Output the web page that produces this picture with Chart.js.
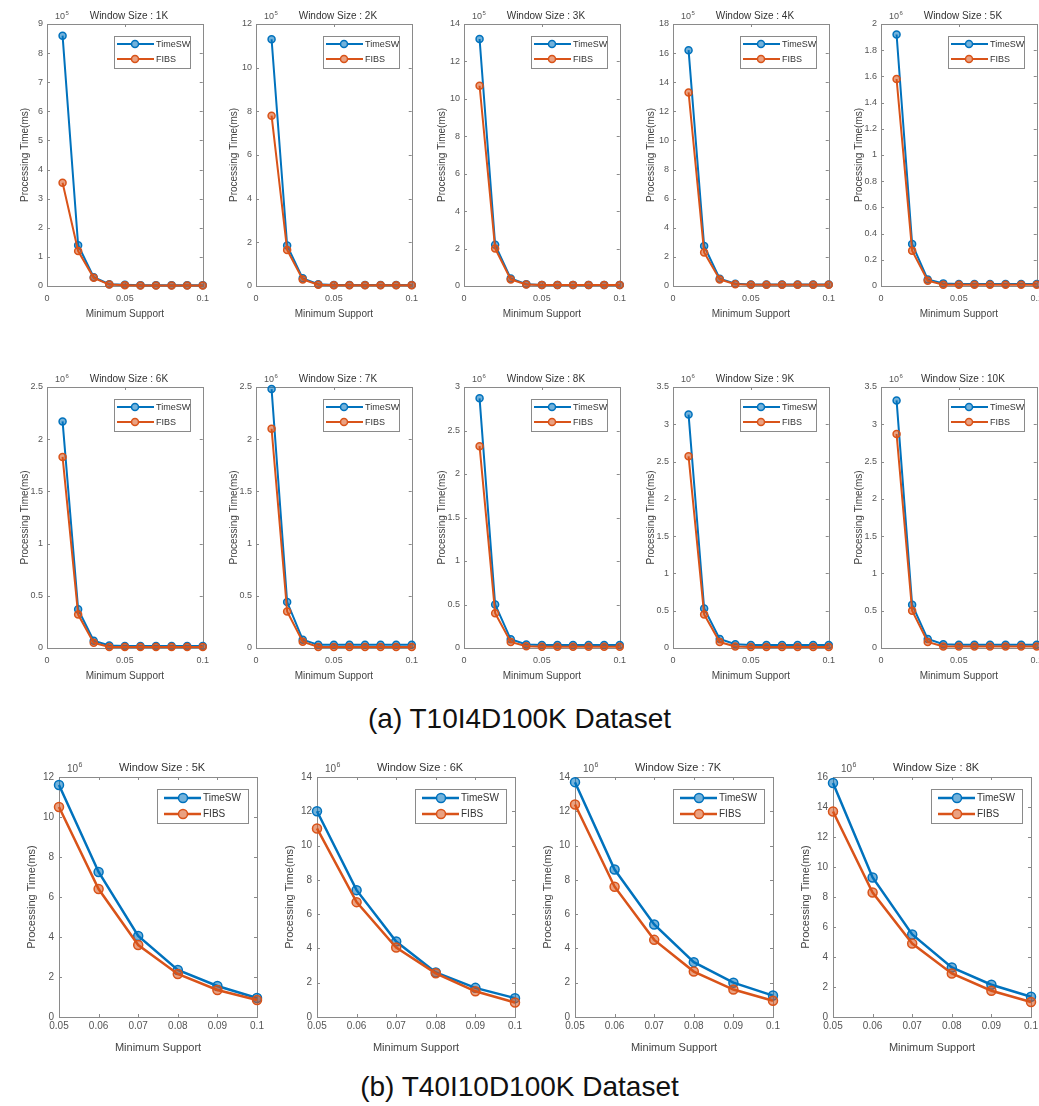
<!DOCTYPE html>
<html><head><meta charset="utf-8">
<script src="https://cdn.jsdelivr.net/npm/chart.js@4.4.1/dist/chart.umd.min.js"></script>
<style>
html,body{margin:0;padding:0;background:#fff;}
body{width:1039px;height:1106px;overflow:hidden;position:relative;font-family:"Liberation Sans",Arial,sans-serif;}
.cap{position:absolute;left:0;width:1039px;text-align:center;font-size:28px;color:#111;line-height:32px;}
</style></head><body>
<div class="cap" style="top:703px;">(a) T10I4D100K Dataset</div>
<div class="cap" style="top:1071px;">(b) T40I10D100K Dataset</div>
<script>
// ---------- data ----------
const supportA = [0.01, 0.02, 0.03, 0.04, 0.05, 0.06, 0.07, 0.08, 0.09, 0.1];
const supportB = [0.05, 0.06, 0.07, 0.08, 0.09, 0.1];
const windowA = ['1K', '2K', '3K', '4K', '5K', '6K', '7K', '8K', '9K', '10K'];
const windowB = ['5K', '6K', '7K', '8K'];
const seriesNames = ['TimeSW', 'FIBS'];

// (a) T10I4D100K
const timeSW_A1K  = [8.6, 1.4, 0.3, 0.06, 0.04, 0.03, 0.03, 0.03, 0.03, 0.03];
const fibs_A1K    = [3.55, 1.2, 0.28, 0.05, 0.03, 0.02, 0.02, 0.02, 0.02, 0.02];
const timeSW_A2K  = [11.3, 1.85, 0.35, 0.08, 0.05, 0.05, 0.05, 0.05, 0.05, 0.05];
const fibs_A2K    = [7.8, 1.65, 0.3, 0.06, 0.04, 0.04, 0.04, 0.04, 0.04, 0.04];
const timeSW_A3K  = [13.2, 2.2, 0.4, 0.1, 0.06, 0.06, 0.06, 0.06, 0.06, 0.06];
const fibs_A3K    = [10.7, 2.0, 0.35, 0.08, 0.05, 0.05, 0.05, 0.05, 0.05, 0.05];
const timeSW_A4K  = [16.2, 2.75, 0.5, 0.15, 0.1, 0.1, 0.1, 0.1, 0.1, 0.1];
const fibs_A4K    = [13.3, 2.3, 0.45, 0.12, 0.08, 0.08, 0.08, 0.08, 0.08, 0.08];
const timeSW_A5K  = [1.92, 0.32, 0.05, 0.02, 0.015, 0.015, 0.015, 0.015, 0.015, 0.015];
const fibs_A5K    = [1.58, 0.27, 0.04, 0.01, 0.01, 0.01, 0.01, 0.01, 0.01, 0.01];
const timeSW_A6K  = [2.17, 0.37, 0.07, 0.025, 0.02, 0.02, 0.02, 0.02, 0.02, 0.02];
const fibs_A6K    = [1.83, 0.32, 0.05, 0.01, 0.01, 0.01, 0.01, 0.01, 0.01, 0.01];
const timeSW_A7K  = [2.48, 0.44, 0.08, 0.03, 0.03, 0.03, 0.03, 0.03, 0.03, 0.03];
const fibs_A7K    = [2.1, 0.35, 0.06, 0.01, 0.01, 0.01, 0.01, 0.01, 0.01, 0.01];
const timeSW_A8K  = [2.87, 0.5, 0.1, 0.04, 0.035, 0.035, 0.035, 0.035, 0.035, 0.035];
const fibs_A8K    = [2.32, 0.4, 0.07, 0.02, 0.015, 0.015, 0.015, 0.015, 0.015, 0.015];
const timeSW_A9K  = [3.13, 0.53, 0.12, 0.05, 0.04, 0.04, 0.04, 0.04, 0.04, 0.04];
const fibs_A9K    = [2.57, 0.45, 0.08, 0.02, 0.015, 0.015, 0.015, 0.015, 0.015, 0.015];
const timeSW_A10K = [3.32, 0.58, 0.12, 0.05, 0.045, 0.045, 0.045, 0.045, 0.045, 0.045];
const fibs_A10K   = [2.87, 0.5, 0.08, 0.02, 0.02, 0.02, 0.02, 0.02, 0.02, 0.02];

// (b) T40I10D100K
const timeSW_B5K = [11.6, 7.25, 4.05, 2.35, 1.55, 0.95];
const fibs_B5K   = [10.5, 6.4, 3.6, 2.15, 1.35, 0.85];
const timeSW_B6K = [12.0, 7.4, 4.4, 2.6, 1.7, 1.1];
const fibs_B6K   = [11.0, 6.7, 4.05, 2.55, 1.5, 0.85];
const timeSW_B7K = [13.7, 8.6, 5.4, 3.2, 2.0, 1.25];
const fibs_B7K   = [12.4, 7.6, 4.5, 2.65, 1.6, 0.95];
const timeSW_B8K = [15.6, 9.3, 5.5, 3.3, 2.15, 1.35];
const fibs_B8K   = [13.7, 8.3, 4.9, 2.9, 1.75, 1.0];

// axis ticks
const xTicksA = [0, 0.05, 0.1];
const xTicksB = [0.05, 0.06, 0.07, 0.08, 0.09, 0.1];
const yMaxA  = [9, 12, 14, 18, 2, 2.5, 2.5, 3, 3.5, 3.5];
const yStepA = [1, 2, 2, 2, 0.2, 0.5, 0.5, 0.5, 0.5, 0.5];
const yExpA  = ['5', '5', '5', '5', '6', '6', '6', '6', '6', '6'];
const yMaxB  = [12, 14, 14, 16];
const yStepB = [2, 2, 2, 2];
const yExpB  = ['6', '6', '6', '6'];

const tswA = [timeSW_A1K, timeSW_A2K, timeSW_A3K, timeSW_A4K, timeSW_A5K, timeSW_A6K, timeSW_A7K, timeSW_A8K, timeSW_A9K, timeSW_A10K];
const fibsA = [fibs_A1K, fibs_A2K, fibs_A3K, fibs_A4K, fibs_A5K, fibs_A6K, fibs_A7K, fibs_A8K, fibs_A9K, fibs_A10K];
const tswB = [timeSW_B5K, timeSW_B6K, timeSW_B7K, timeSW_B8K];
const fibsB = [fibs_B5K, fibs_B6K, fibs_B7K, fibs_B8K];

// ---------- drawing ----------
const TSW = '#0072BD', FIB = '#D95319';
const TSW_FILL = 'rgba(0,114,189,0.55)', FIB_FILL = 'rgba(217,83,25,0.55)';
const FAM = '"Liberation Sans", Arial, sans-serif';
const FRAME = '#8a8a8a';
const fmt = v => String(parseFloat(Number(v).toFixed(3)));

function makeChart(p) {
  const cv = document.createElement('canvas');
  const W = p.ML + p.w + p.MR, H = p.MT + p.h + p.MB;
  cv.width = W; cv.height = H;
  cv.style.cssText = `position:absolute;left:${p.x - p.ML}px;top:${p.y - p.MT}px;width:${W}px;height:${H}px;`;
  document.body.appendChild(cv);

  const decor = {
    id: 'decor',
    beforeDatasetsDraw(chart) {
      const ctx = chart.ctx, ca = chart.chartArea;
      ctx.save();
      ctx.strokeStyle = FRAME; ctx.lineWidth = 1;
      ctx.strokeRect(Math.round(ca.left) + 0.5, Math.round(ca.top) + 0.5,
                     Math.round(ca.right - ca.left), Math.round(ca.bottom - ca.top));
      ctx.beginPath();
      chart.scales.x.ticks.forEach(t => {
        const px = Math.round(chart.scales.x.getPixelForValue(t.value)) + 0.5;
        ctx.moveTo(px, ca.bottom); ctx.lineTo(px, ca.bottom - 3);
        ctx.moveTo(px, ca.top); ctx.lineTo(px, ca.top + 3);
      });
      chart.scales.y.ticks.forEach(t => {
        const py = Math.round(chart.scales.y.getPixelForValue(t.value)) + 0.5;
        ctx.moveTo(ca.left, py); ctx.lineTo(ca.left + 3, py);
        ctx.moveTo(ca.right, py); ctx.lineTo(ca.right - 3, py);
      });
      ctx.stroke();
      ctx.restore();
    },
    afterDraw(chart) {
      const ctx = chart.ctx, ca = chart.chartArea, L = p.leg;
      ctx.save();
      // title
      ctx.fillStyle = '#333';
      ctx.font = `${p.titleSize}px ${FAM}`;
      ctx.textAlign = 'center'; ctx.textBaseline = 'middle';
      ctx.fillText('Window Size : ' + p.win, (ca.left + ca.right) / 2 + 4, ca.top - p.titleOff);
      // exponent
      ctx.textAlign = 'left';
      ctx.fillStyle = '#555';
      ctx.font = `${p.tickSize}px ${FAM}`;
      const ex = ca.left + 8, ey = ca.top - p.titleOff + 1;
      ctx.fillText('10', ex, ey);
      const w10 = ctx.measureText('10').width;
      ctx.font = `${p.tickSize - 3}px ${FAM}`;
      ctx.fillText(p.exp, ex + w10 + 0.5, ey - 4);
      // legend
      const bx = Math.round(ca.right - L.r - L.w), by = Math.round(ca.top + L.t);
      ctx.fillStyle = '#fff';
      ctx.fillRect(bx, by, L.w, L.h);
      ctx.strokeStyle = FRAME; ctx.lineWidth = 1;
      ctx.strokeRect(bx + 0.5, by + 0.5, L.w, L.h);
      [[TSW, TSW_FILL, seriesNames[0], L.row1], [FIB, FIB_FILL, seriesNames[1], L.row2]].forEach(([c, f, t, ry]) => {
        const yy = by + ry;
        ctx.strokeStyle = c; ctx.lineWidth = p.lw;
        ctx.beginPath(); ctx.moveTo(bx + L.x0, yy); ctx.lineTo(bx + L.x1, yy); ctx.stroke();
        ctx.beginPath(); ctx.arc(bx + L.xm, yy, p.pr, 0, Math.PI * 2);
        ctx.fillStyle = '#fff'; ctx.fill();
        ctx.fillStyle = f; ctx.fill();
        ctx.lineWidth = 1.5; ctx.stroke();
        ctx.fillStyle = '#333';
        ctx.font = `${p.legSize}px ${FAM}`;
        ctx.textAlign = 'left'; ctx.textBaseline = 'middle';
        ctx.fillText(t, bx + L.xt, yy + 0.5);
      });
      ctx.restore();
    }
  };

  const ds = (label, ys, c, f, order) => ({
    label, order,
    data: p.xs.map((x, i) => ({ x, y: ys[i] })),
    borderColor: c, backgroundColor: f,
    borderWidth: p.lw,
    pointRadius: p.pr, pointBorderWidth: 1.5,
    pointBackgroundColor: f, pointBorderColor: c,
    tension: 0, clip: false, fill: false
  });

  new Chart(cv, {
    type: 'line',
    data: { datasets: [ds(seriesNames[0], p.tsw, TSW, TSW_FILL, 1), ds(seriesNames[1], p.fibs, FIB, FIB_FILL, 0)] },
    options: {
      responsive: false, animation: false, devicePixelRatio: 1,
      layout: { padding: { left: 0, top: p.MT, right: p.MR, bottom: 0 } },
      plugins: { legend: { display: false }, title: { display: false }, tooltip: { enabled: false } },
      scales: {
        x: {
          type: 'linear', min: p.xTicks[0], max: p.xTicks[p.xTicks.length - 1],
          afterFit: s => { s.height = p.MB; },
          afterBuildTicks: s => { s.ticks = p.xTicks.map(v => ({ value: v })); },
          grid: { display: false, drawTicks: false },
          border: { display: false },
          ticks: { autoSkip: false, maxRotation: 0, padding: p.xtPad, color: '#555',
                   font: { family: FAM, size: p.tickSize }, callback: v => fmt(v) },
          title: { display: true, text: 'Minimum Support', color: '#444',
                   font: { family: FAM, size: p.axSize }, padding: { top: 0, bottom: p.xTitlePad } }
        },
        y: {
          type: 'linear', min: 0, max: p.yMax,
          afterFit: s => { s.width = p.ML; },
          grid: { display: false, drawTicks: false },
          border: { display: false },
          ticks: { stepSize: p.yStep, autoSkip: false, padding: p.ytPad, color: '#555',
                   font: { family: FAM, size: p.tickSize }, callback: v => fmt(v) },
          title: { display: true, text: 'Processing Time(ms)', color: '#444',
                   font: { family: FAM, size: p.axSize }, padding: { top: p.yTitlePad, bottom: 0 } }
        }
      }
    },
    plugins: [decor]
  });
}

const colsA = [47, 256, 464, 673, 881];
const rowsA = [{ y: 24, h: 262 }, { y: 387, h: 261 }];
const legA = { w: 76, h: 32, r: 13, t: 12, row1: 8, row2: 23, x0: 3, x1: 40, xm: 21, xt: 42 };
for (let i = 0; i < 10; i++) {
  const r = rowsA[i < 5 ? 0 : 1];
  makeChart({
    x: colsA[i % 5], y: r.y, w: 159, h: r.h,
    ML: 47, MR: 10, MT: 24, MB: 40,
    xs: supportA, tsw: tswA[i], fibs: fibsA[i], xTicks: xTicksA,
    yMax: yMaxA[i], yStep: yStepA[i], exp: yExpA[i], win: windowA[i],
    titleSize: 10, tickSize: 9, axSize: 10, legSize: 9, titleOff: 8,
    lw: 2, pr: 3.5, xtPad: 7, xTitlePad: 6, ytPad: 4, yTitlePad: 19, leg: legA
  });
}

const colsB = [59, 317, 575, 833];
const legB = { w: 91, h: 34, r: 9, t: 12, row1: 9, row2: 25, x0: 7, x1: 44, xm: 26, xt: 46 };
for (let i = 0; i < 4; i++) {
  makeChart({
    x: colsB[i], y: 777, w: 198, h: 240,
    ML: 55, MR: 10, MT: 26, MB: 40,
    xs: supportB, tsw: tswB[i], fibs: fibsB[i], xTicks: xTicksB,
    yMax: yMaxB[i], yStep: yStepB[i], exp: yExpB[i], win: windowB[i],
    titleSize: 11, tickSize: 10, axSize: 11, legSize: 10, titleOff: 9,
    lw: 2.5, pr: 4.5, xtPad: 3, xTitlePad: 2, ytPad: 5, yTitlePad: 21, leg: legB
  });
}
</script>
</body></html>
